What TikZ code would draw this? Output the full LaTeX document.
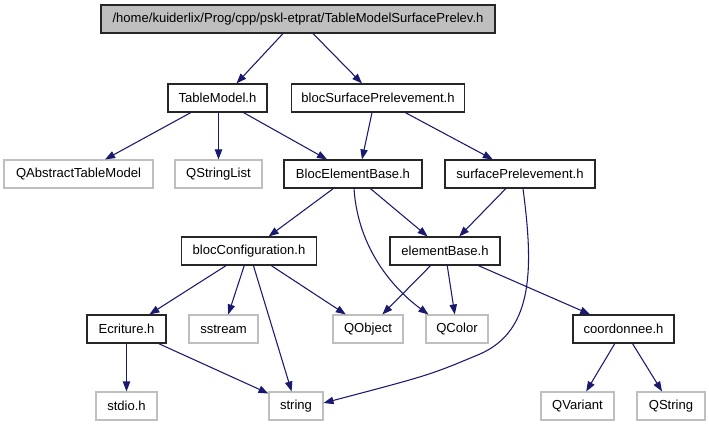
\documentclass[tikz,border=0pt]{standalone}
\usepackage{fontspec}
\setmainfont{Liberation Sans}
\definecolor{edgeblue}{RGB}{25,25,112}
\definecolor{leafgray}{RGB}{191,191,191}
\definecolor{topgray}{RGB}{191,191,191}
\usetikzlibrary{arrows.meta, calc}

\begin{document}
\begin{tikzpicture}[
    x=0.75pt, y=-0.75pt,
    wd/.style={minimum width=#1*0.75pt},
    hdr/.style={draw=black!85, line width=0.85pt, fill=white, minimum height=21pt, inner sep=0pt, font=\fontsize{9.8}{11}\selectfont},
    ext/.style={hdr, draw=leafgray, line width=0.8pt},
    dep/.style={draw=edgeblue, line width=0.8pt, -{Triangle[length=7.5pt, width=5.5pt]}}
]
  \useasboundingbox (0,0) rectangle (709,427);

  % top file
  \node[hdr, wd=394, fill=topgray] (top) at (298,19) {/home/kuiderlix/Prog/cpp/pskl-etprat/TableModelSurfacePrelev.h};

  % project headers
  \node[hdr, wd=99] (tablemodel) at (217.5,98) {TableModel.h};
  \node[hdr, wd=173] (blocsurf) at (378,98) {blocSurfacePrelevement.h};
  \node[hdr, wd=138] (blocelem) at (353,174) {BlocElementBase.h};
  \node[hdr, wd=150] (surfprel) at (520,174) {surfacePrelevement.h};
  \node[hdr, wd=135] (blocconf) at (249,251) {blocConfiguration.h};
  \node[hdr, wd=110] (elembase) at (445,251) {elementBase.h};
  \node[hdr, wd=79] (ecriture) at (126.5,329) {Ecriture.h};
  \node[hdr, wd=101] (coordonnee) at (623.5,329) {coordonnee.h};

  % system / Qt headers
  \node[ext, wd=149] (qabstract) at (78.5,174) {QAbstractTableModel};
  \node[ext, wd=87] (qstringlist) at (218.5,174) {QStringList};
  \node[ext, wd=69] (sstream) at (223.5,329) {sstream};
  \node[ext, wd=70] (qobject) at (368,329) {QObject};
  \node[ext, wd=62] (qcolor) at (457,329) {QColor};
  \node[ext, wd=61] (stdio) at (126.5,406) {stdio.h};
  \node[ext, wd=54] (string) at (296,406) {string};
  \node[ext, wd=73] (qvariant) at (577.5,406) {QVariant};
  \node[ext, wd=68] (qstring) at (671,406) {QString};

  % includes
  \draw[dep] ($(top.south)+(-15,0)$) -- ($(tablemodel.north)+(19,0)$);
  \draw[dep] ($(top.south)+(15,0)$) -- ($(blocsurf.north)+(-16,0)$);
  \draw[dep] (tablemodel) -- (qabstract);
  \draw[dep] (tablemodel.south -| qstringlist.north) -- (qstringlist.north);
  \draw[dep] (tablemodel) -- (blocelem);
  \draw[dep] ($(blocsurf.south)+(-6,0)$) -- ($(blocelem.north)+(9,0)$);
  \draw[dep] (blocsurf) -- (surfprel);
  \draw[dep] (blocelem) -- (blocconf);
  \draw[dep] (blocelem) -- (elembase);
  \draw[dep] ($(blocelem.south)+(1,0)$) .. controls (358,250) and (395,290) .. ($(qcolor.north west)+(3,0)$);
  \draw[dep] (surfprel) -- (elembase);
  \draw[dep] ($(surfprel.south)+(3,0)$) .. controls (533,265) and (535,330) .. (480,354) .. controls (430,375) .. ($(string.east)+(0,-3)$);
  \draw[dep] (blocconf) -- (ecriture);
  \draw[dep] (blocconf) -- (sstream);
  \draw[dep] (blocconf) -- (qobject);
  \draw[dep] (blocconf) -- (string);
  \draw[dep] (elembase) -- (qobject);
  \draw[dep] (elembase) -- (qcolor);
  \draw[dep] (elembase) -- (coordonnee);
  \draw[dep] (ecriture) -- (stdio);
  \draw[dep] (ecriture) -- (string);
  \draw[dep] (coordonnee) -- (qvariant);
  \draw[dep] (coordonnee) -- (qstring);
\end{tikzpicture}
\end{document}
